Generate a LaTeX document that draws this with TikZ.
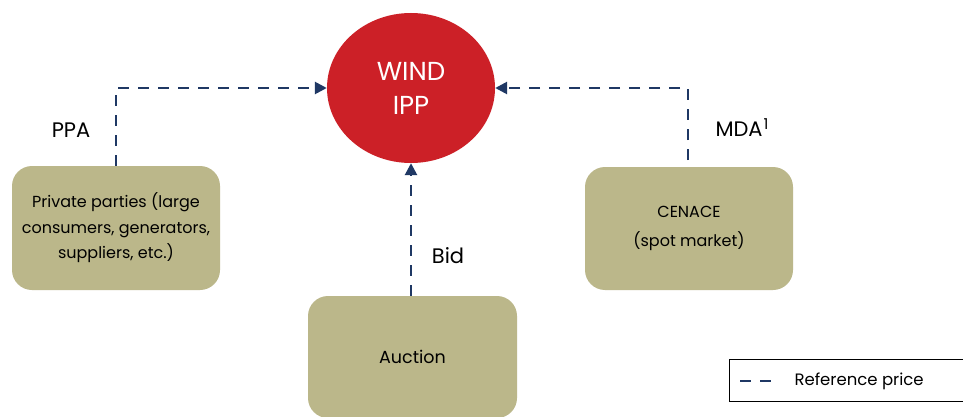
\documentclass[tikz,border=0pt]{standalone}
\usepackage{fontspec}
\setmainfont{Poppins}
\usetikzlibrary{arrows.meta,shapes.geometric}
\definecolor{ippred}{HTML}{CC2027}
\definecolor{boxolive}{HTML}{BBB78A}
\definecolor{linknavy}{HTML}{1F3864}
\tikzset{
  party/.style={draw=none, fill=boxolive, rounded corners=20pt, align=center,
    inner sep=0pt, font=\fontsize{16}{25.5}\selectfont},
  refline/.style={draw=linknavy, line width=2.6pt, dash pattern=on 11pt off 9pt,
    -{Triangle[length=12pt,width=12pt]}},
  flowlabel/.style={font=\fontsize{21}{24}\selectfont, anchor=center},
}
\begin{document}
\begin{tikzpicture}[x=1pt,y=-1pt]
  \useasboundingbox (0,0) rectangle (963,417);
  \clip (0,0) rectangle (963,417);
  \fill[white] (0,0) rectangle (963,417);

  % central generator
  \node[ellipse, fill=ippred, minimum width=168pt, minimum height=150pt, inner sep=0pt,
        text=white, align=center, font=\fontsize{26}{34}\selectfont] (ipp) at (411,88) {WIND\\IPP};

  % counterparties
  \node[party, minimum width=208pt, minimum height=124pt] (priv) at (116,228)
    {Private parties (large\\consumers, generators,\\suppliers, etc.)};
  \node[party, minimum width=208pt, minimum height=123pt, font=\fontsize{16}{29}\selectfont]
    (cenace) at (689,228.5) {CENACE\\(spot market)};
  \node[party, minimum width=209pt, minimum height=122pt, font=\fontsize{17.5}{20}\selectfont]
    (auction) at (412.5,357) {Auction};

  % price links
  \coordinate (ppaTurn) at (116,88);
  \coordinate (mdaTurn) at (688,88);
  \draw[refline] (priv.north -| ppaTurn) -- (ppaTurn) -- (ipp.west);
  \draw[refline] (688,160) -- (mdaTurn) -- (ipp.east);
  \draw[refline] (auction.north -| ipp.south) -- (ipp.south);

  \node[flowlabel] (ppa) at (71,130) {PPA};
  \node[flowlabel] (mda) at (742,128) {MDA\kern1pt\raisebox{7pt}{\fontsize{15}{15}\selectfont 1}};
  \node[flowlabel] (bid) at (448,256) {Bid};

  % legend
  \node[draw=black, line width=1pt, minimum width=250pt, minimum height=42pt,
        anchor=north west, inner sep=0pt] (legend) at (729,359) {};
  \coordinate (legA) at (740,381);
  \coordinate (legB) at (778,381);
  \draw[draw=linknavy, line width=2.6pt, dash pattern=on 11pt off 9pt] (legA) -- (legB);
  \node[anchor=west, font=\fontsize{16.5}{18}\selectfont] (legtxt) at (791,381) {Reference price};
\end{tikzpicture}
\end{document}
